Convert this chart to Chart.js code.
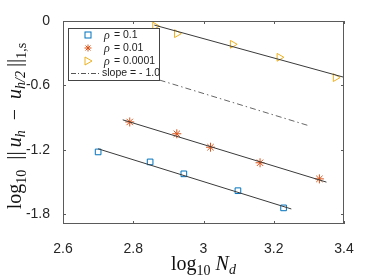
<!DOCTYPE html>
<html>
<head>
<meta charset="utf-8">
<script src="https://cdn.jsdelivr.net/npm/chart.js@4.4.1/dist/chart.umd.min.js"></script>
<style>
  html, body { margin: 0; padding: 0; background: #fff; }
  canvas { display: block; }
</style>
</head>
<body>
<canvas id="cv" width="381" height="277"></canvas>
<script>
// values (log10 N_d, log10 error)
const ndRho1 = [2.700, 2.848, 2.944, 3.098, 3.228];
const errRho1 = [-1.219, -1.312, -1.423, -1.580, -1.740];
const ndRho2 = [2.790, 2.924, 3.020, 3.161, 3.330];
const errRho2 = [-0.940, -1.050, -1.175, -1.320, -1.470];
const ndRho4 = [2.862, 2.924, 3.083, 3.216, 3.376];
const errRho4 = [-0.047, -0.118, -0.217, -0.338, -0.527];

// fitted lines (end points)
const fitRho1X = [2.70, 3.25], fitRho1Y = [-1.19, -1.75];
const fitRho2X = [2.77, 3.35], fitRho2Y = [-0.92, -1.50];
const fitRho4X = [2.86, 3.40], fitRho4Y = [-0.038, -0.524];
const slopeX = [2.875, 3.30], slopeY = [-0.55, -0.975];

const xTicks = [2.6, 2.8, 3.0, 3.2, 3.4];
const yTicks = [0, -0.6, -1.2, -1.8];
const yTickLabels = ['0', '-0.6', '-1.2', '-1.8'];
const legendLabels = ['= 0.1', '= 0.01', '= 0.0001', 'slope = - 1.0'];

const BLUE = '#0072BD', RED = '#D95319', YEL = '#EDB120';
const AX = '#5a5a5a';
const SANS = 'Liberation Sans, Arial, sans-serif';
const SERIF = 'Liberation Serif, Times New Roman, serif';

const pts = (xs, ys) => xs.map((x, i) => ({ x: x, y: ys[i] }));

function markerSet(label, xs, ys, color, style, rot) {
  return {
    label: label, data: pts(xs, ys), showLine: false,
    pointStyle: style, pointRotation: rot || 0,
    pointRadius: style === 'rect' ? 4 : 4.5, pointBorderWidth: 1,
    pointBorderColor: color, pointBackgroundColor: 'rgba(0,0,0,0)',
  };
}
function lineSet(xs, ys, dash) {
  return {
    data: pts(xs, ys), showLine: true, pointRadius: 0,
    borderColor: dash ? '#666' : '#3a3a3a', borderWidth: 1,
    borderDash: dash || [],
  };
}

// draw text runs: [text, font, dy]
function runs(ctx, parts, x, y) {
  let w = 0;
  parts.forEach(p => { ctx.font = p[1]; w += ctx.measureText(p[0]).width; });
  let cx = x - w / 2;
  parts.forEach(p => {
    ctx.font = p[1];
    ctx.fillText(p[0], cx, y + (p[2] || 0));
    cx += ctx.measureText(p[0]).width;
  });
}

const frame = {
  id: 'frame',
  afterDraw(chart) {
    const { ctx, chartArea: a, scales } = chart;
    ctx.save();
    ctx.strokeStyle = AX; ctx.lineWidth = 1;
    ctx.strokeRect(a.left + 0.5, a.top + 0.5, a.right - a.left - 1, a.bottom - a.top - 1);
    ctx.beginPath();
    xTicks.forEach(v => {
      const px = Math.round(scales.x.getPixelForValue(v)) + 0.5;
      ctx.moveTo(px, a.bottom); ctx.lineTo(px, a.bottom - 3);
      ctx.moveTo(px, a.top); ctx.lineTo(px, a.top + 3);
    });
    yTicks.forEach(v => {
      const py = Math.round(scales.y.getPixelForValue(v)) + 0.5;
      ctx.moveTo(a.left, py); ctx.lineTo(a.left + 3, py);
      ctx.moveTo(a.right, py); ctx.lineTo(a.right - 3, py);
    });
    ctx.stroke();

    // legend
    const lx = 68, ly = 28, lw = 91, lh = 52;
    ctx.fillStyle = '#fff';
    ctx.fillRect(lx, ly, lw, lh);
    ctx.strokeStyle = '#444';
    ctx.strokeRect(lx + 0.5, ly + 0.5, lw, lh);
    const rows = [35, 48, 61, 73];
    const mx = 88;
    ctx.lineWidth = 1;
    ctx.strokeStyle = BLUE;
    ctx.strokeRect(mx - 3, rows[0] - 3, 6, 6);
    ctx.strokeStyle = RED;
    ctx.beginPath();
    for (let k = 0; k < 4; k++) {
      const t = k * Math.PI / 4;
      ctx.moveTo(mx - 3.5 * Math.cos(t), rows[1] - 3.5 * Math.sin(t));
      ctx.lineTo(mx + 3.5 * Math.cos(t), rows[1] + 3.5 * Math.sin(t));
    }
    ctx.stroke();
    ctx.strokeStyle = YEL;
    ctx.beginPath();
    ctx.moveTo(mx - 3, rows[2] - 4); ctx.lineTo(mx + 4, rows[2]); ctx.lineTo(mx - 3, rows[2] + 4); ctx.closePath();
    ctx.stroke();
    ctx.strokeStyle = '#555';
    ctx.setLineDash([5, 2, 1, 2]);
    ctx.beginPath(); ctx.moveTo(71, rows[3] + 0.5); ctx.lineTo(100, rows[3] + 0.5); ctx.stroke();
    ctx.setLineDash([]);
    ctx.fillStyle = '#222';
    ctx.textBaseline = 'middle';
    ctx.textAlign = 'left';
    for (let i = 0; i < 3; i++) {
      ctx.font = 'italic 12px ' + SERIF;
      ctx.fillText('\u03C1', 104, rows[i] + 1);
      ctx.font = '10.5px ' + SANS;
      ctx.fillText(' ' + legendLabels[i], 111, rows[i]);
    }
    ctx.font = '10.5px ' + SANS;
    ctx.fillText(legendLabels[3], 102, rows[3]);

    // axis titles
    ctx.fillStyle = '#111';
    ctx.textBaseline = 'alphabetic';
    const R = '20px ' + SERIF, I = 'italic 20px ' + SERIF;
    const r = '14px ' + SERIF, i = 'italic 14px ' + SERIF;
    runs(ctx, [['log', R], ['10', r, 5], [' ', R], ['N', I], ['d', i, 4]],
      (a.left + a.right) / 2, 270);
    ctx.translate(21, 126);
    ctx.rotate(-Math.PI / 2);
    const B = '21px ' + SERIF;
    runs(ctx, [['log', R], ['10', r, 5], ['  ', R], ['|', B], ['|', B], ['\u2009', R], ['u', I], ['h', i, 4],
      ['  \u2212  ', R], ['u', I], ['h/2', i, 4], ['\u2009', R], ['|', B], ['|', B], ['1,s', r, 5]], 0, 0);
    ctx.restore();
  }
};

new Chart(document.getElementById('cv'), {
  type: 'scatter',
  data: {
    datasets: [
      lineSet(fitRho1X, fitRho1Y),
      lineSet(fitRho2X, fitRho2Y),
      lineSet(fitRho4X, fitRho4Y),
      lineSet(slopeX, slopeY, [6, 3, 1.5, 3]),
      markerSet('rho = 0.1', ndRho1, errRho1, BLUE, 'rect'),
      markerSet('rho = 0.01', ndRho2, errRho2, RED, 'star'),
      markerSet('rho = 0.0001', ndRho4, errRho4, YEL, 'triangle', 90),
    ],
  },
  options: {
    responsive: false,
    animation: false,
    layout: { padding: { top: 21, right: 37, left: 0, bottom: 0 } },
    plugins: { legend: { display: false }, tooltip: { enabled: false } },
    scales: {
      x: {
        type: 'linear', min: 2.6, max: 3.4,
        afterBuildTicks: s => { s.ticks = xTicks.map(v => ({ value: v })); },
        afterFit: s => { s.height = 53; },
        grid: { display: false }, border: { display: false },
        ticks: { color: '#262626', padding: 9, font: { family: SANS, size: 14 },
          callback: v => String(+v.toFixed(1)) },
      },
      y: {
        type: 'linear', min: -1.89, max: 0,
        afterBuildTicks: s => { s.ticks = yTicks.map(v => ({ value: v })); },
        afterFit: s => { s.width = 63; },
        grid: { display: false }, border: { display: false },
        ticks: { color: '#262626', padding: 5, font: { family: SANS, size: 14 },
          callback: v => yTickLabels[yTicks.findIndex(t => Math.abs(t - v) < 1e-6)] },
      },
    },
  },
  plugins: [frame],
});
</script>
</body>
</html>
